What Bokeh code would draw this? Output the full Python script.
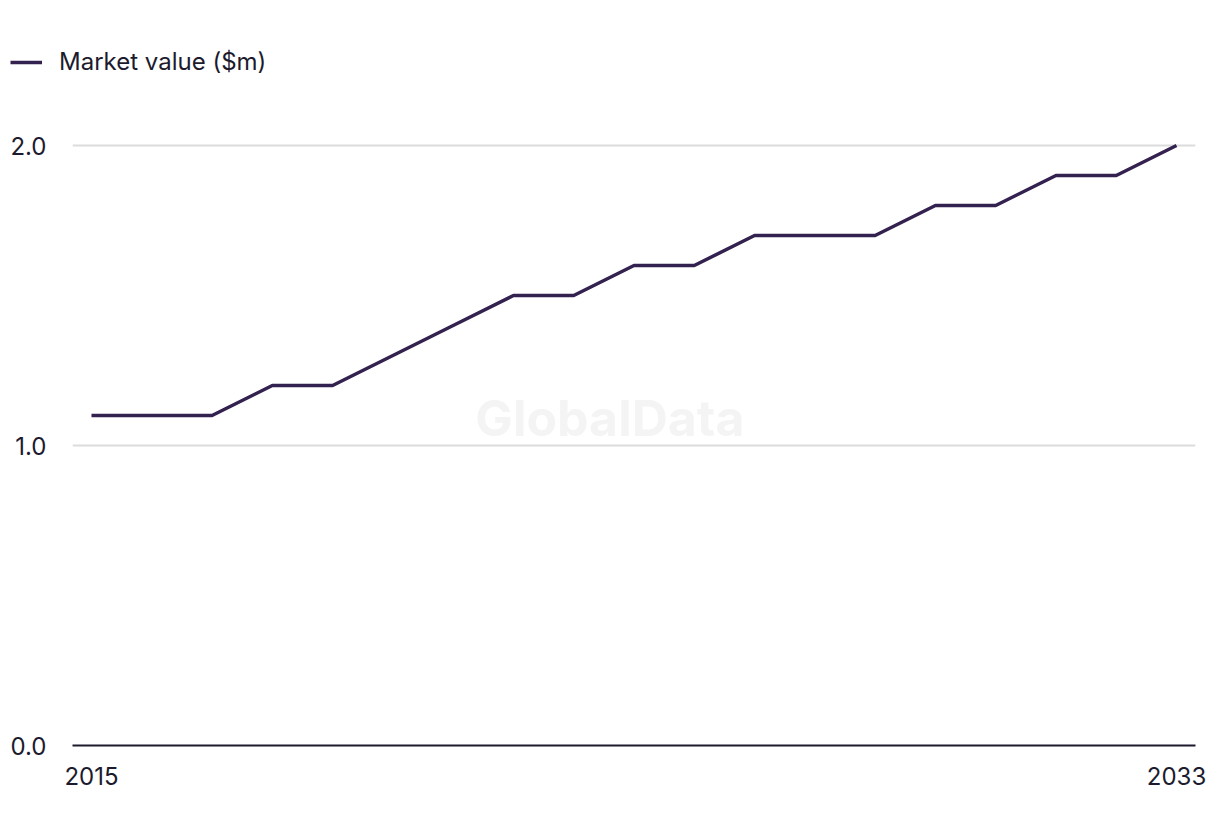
from bokeh.plotting import figure
from bokeh.layouts import column
from bokeh.models import ColumnDataSource, FixedTicker, PrintfTickFormatter, Legend, LegendItem, Label, Range1d
from bokeh.embed import file_html
from bokeh.resources import INLINE

years = list(range(2015, 2034))
market_value = [1.1, 1.1, 1.1, 1.2, 1.2, 1.3, 1.4, 1.5, 1.5, 1.6, 1.6, 1.7, 1.7, 1.7, 1.8, 1.8, 1.9, 1.9, 2.0]
y_ticks = [0, 1, 2]
x_ticks = [2015, 2033]
series_name = "Market value ($m)"

FONT = "Inter"
TEXT = "#1c1b2e"
LINE = "#33214f"

src = ColumnDataSource(dict(x=years, y=market_value))

# --- legend strip (top) ---
lg = figure(width=1220, height=125, output_backend="svg", toolbar_location=None,
            x_range=Range1d(0, 1), y_range=Range1d(0, 1),
            x_axis_location=None, y_axis_location=None,
            min_border=0, min_border_left=0, min_border_right=0, min_border_top=0, min_border_bottom=0)
lg.frame_align = False
lg.grid.visible = False
lg.outline_line_color = None
lg.border_fill_color = "white"
lr = lg.line("x", "y", source=src, line_color=LINE, line_width=3.5)
legend = Legend(items=[LegendItem(label=series_name, renderers=[lr])], location=(10, 49),
                glyph_width=32, glyph_height=20, label_standoff=17, padding=0, margin=0,
                border_line_color=None, background_fill_alpha=0,
                label_text_font=FONT, label_text_font_size="24px", label_text_color=TEXT)
lg.add_layout(legend, "center")

# --- main chart ---
p = figure(width=1220, height=711, output_backend="svg", toolbar_location=None,
           x_range=Range1d(2014.685, 2033.315), y_range=Range1d(0, 2.0667),
           min_border_left=72, min_border_right=25, min_border_top=0, min_border_bottom=91)
p.frame_align = False
p.outline_line_color = None
p.background_fill_color = "white"
p.border_fill_color = "white"

p.line("x", "y", source=src, line_color=LINE, line_width=3.5)

p.xgrid.grid_line_color = None
p.ygrid.grid_line_color = "#dcdcde"
p.ygrid.grid_line_width = 2
p.ygrid.ticker = FixedTicker(ticks=y_ticks)

p.yaxis.ticker = FixedTicker(ticks=y_ticks)
p.yaxis.formatter = PrintfTickFormatter(format="%.1f")
p.yaxis.axis_line_color = None
p.yaxis.major_tick_line_color = None
p.yaxis.minor_tick_line_color = None
p.yaxis.major_label_standoff = 20
p.yaxis.major_label_text_font = FONT
p.yaxis.major_label_text_font_size = "24px"
p.yaxis.major_label_text_color = TEXT

p.xaxis.ticker = FixedTicker(ticks=x_ticks)
p.xaxis.axis_line_color = TEXT
p.xaxis.axis_line_width = 2
p.xaxis.major_tick_line_color = None
p.xaxis.minor_tick_line_color = None
p.xaxis.major_label_standoff = 15
p.xaxis.major_label_text_font = FONT
p.xaxis.major_label_text_font_size = "24px"
p.xaxis.major_label_text_color = TEXT

wm = Label(x=2023.6, y=1.093, text="GlobalData", text_align="center", text_baseline="middle",
           text_font=FONT, text_font_style="bold", text_font_size="50px", text_color="#f4f4f4")
p.add_layout(wm)

layout = column(lg, p, spacing=0)
open("out.html", "w").write(file_html(layout, INLINE))
